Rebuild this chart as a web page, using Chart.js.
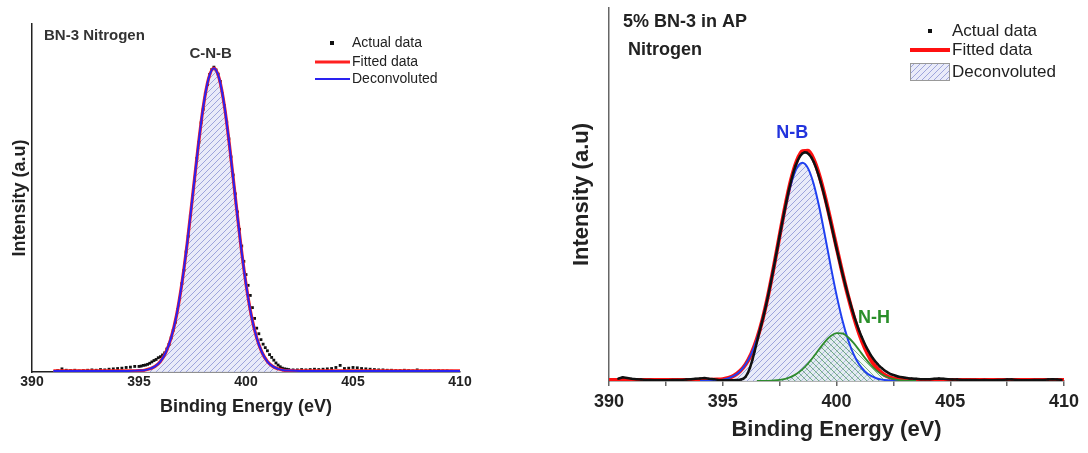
<!DOCTYPE html>
<html>
<head>
<meta charset="utf-8">
<script src="https://cdn.jsdelivr.net/npm/chart.js@4.4.1/dist/chart.umd.min.js"></script>
<style>
body { margin: 0; background: #fff; }
#wrap { position: relative; width: 1088px; height: 453px; }
.panel { position: absolute; top: 0; height: 453px; }
</style>
</head>
<body>
<div id="wrap">
  <div class="panel" style="left:0;width:540px"><canvas id="leftChart"></canvas></div>
  <div class="panel" style="left:540px;width:548px"><canvas id="rightChart"></canvas></div>
</div>
<script>
// ---------- left panel: BN-3 Nitrogen ----------
var leftTicks = [390, 395, 400, 405, 410];

var leftActualX = [
    391.2, 391.4, 391.6, 391.8, 392.0, 392.2, 392.4, 392.6, 392.8, 393.0,
    393.2, 393.4, 393.6, 393.8, 394.0, 394.2, 394.4, 394.6, 394.8,
    395.0, 395.1, 395.2, 395.3, 395.4, 395.5, 395.6, 395.7, 395.8, 395.9,
    396.0, 396.1, 396.2, 396.3, 396.4, 396.5, 396.6, 396.7, 396.8, 396.9,
    397.0, 397.1, 397.2, 397.3, 397.4, 397.5, 397.6, 397.7, 397.8, 397.9,
    398.0, 398.1, 398.2, 398.3, 398.4, 398.5, 398.6, 398.7, 398.8, 398.9,
    399.0, 399.1, 399.2, 399.3, 399.4, 399.5, 399.6, 399.7, 399.8, 399.9,
    400.0, 400.1, 400.2, 400.3, 400.4, 400.5, 400.6, 400.7, 400.8, 400.9,
    401.0, 401.1, 401.2, 401.3, 401.4, 401.5, 401.6, 401.7, 401.8, 401.9,
    402.0,
    402.2, 402.4, 402.6, 402.8, 403.0, 403.2, 403.4, 403.6, 403.8, 404.0,
    404.2, 404.4, 404.6, 404.8, 405.0, 405.2, 405.4, 405.6, 405.8, 406.0,
    406.2, 406.4, 406.6, 406.8, 407.0, 407.2, 407.4, 407.6, 407.8, 408.0,
    408.2, 408.4, 408.6, 408.8, 409.0, 409.2, 409.4, 409.6
];
var leftActualY = [
    0.4, 0.9, 0.5, 0.4, 0.5, 0.3, 0.4, 0.5, 0.6, 0.5,
    0.7, 0.6, 0.8, 0.9, 1.0, 1.1, 1.3, 1.4, 1.6,
    1.6, 1.7, 1.9, 2.0, 2.2, 2.5, 2.9, 3.3, 3.6, 4.1,
    4.4, 4.9, 5.5, 6.6, 7.9, 9.8, 12.0, 14.3, 17.9, 21.0,
    25.4, 29.2, 34.5, 39.0, 44.9, 50.3, 55.1, 61.4, 66.0, 71.6,
    75.5, 80.1, 82.6, 85.5, 86.9, 87.6, 86.8, 85.6, 83.5, 79.9,
    76.5, 71.9, 67.0, 61.8, 56.6, 51.2, 46.0, 41.0, 36.2, 31.8,
    28.0, 24.9, 22.0, 18.5, 15.4, 12.6, 11.0, 9.3, 8.0, 7.0,
    6.1, 5.0, 4.2, 3.4, 2.6, 2.0, 1.5, 1.1, 0.9, 0.8,
    0.7,
    0.6, 0.6, 0.7, 0.6, 0.7, 0.8, 0.7, 0.8, 0.9, 1.0,
    1.3, 1.9, 1.0, 1.1, 1.3, 1.2, 1.0, 0.9, 0.8, 0.7,
    0.6, 0.6, 0.5, 0.5, 0.4, 0.4, 0.5, 0.4, 0.3, 0.6,
    0.3, 0.3, 0.4, 0.3, 0.4, 0.3, 0.3, 0.2
];

var leftFitX = [
    391, 392, 393, 394, 394.5, 395, 395.25, 395.5, 395.75,
    396, 396.25, 396.5, 396.75, 397, 397.25, 397.5, 397.75,
    398, 398.25, 398.5, 398.75, 399, 399.25, 399.5, 399.75,
    400, 400.25, 400.5, 400.75, 401, 401.25, 401.5, 401.75,
    402, 402.5, 403, 404, 405, 406, 407, 408, 409, 410
];
var leftFitY = [
    0.3, 0.3, 0.3, 0.3, 0.3, 0.4, 0.5, 0.9, 1.6,
    3.0, 5.6, 9.8, 16.2, 25.3, 36.9, 50.3, 64.0,
    76.1, 84.3, 87.3, 84.3, 76.1, 64.0, 50.3, 36.9,
    25.3, 16.2, 9.8, 5.6, 3.0, 1.6, 0.9, 0.5,
    0.4, 0.3, 0.3, 0.3, 0.3, 0.3, 0.3, 0.3, 0.3, 0.3
];
var leftDeconvY = [
    0.3, 0.3, 0.3, 0.3, 0.3, 0.4, 0.5, 0.9, 1.6,
    3.0, 5.6, 9.8, 16.2, 25.3, 36.9, 50.3, 64.0,
    76.1, 84.3, 87.3, 84.3, 76.1, 64.0, 50.3, 36.9,
    25.3, 16.2, 9.8, 5.6, 3.0, 1.6, 0.9, 0.5,
    0.4, 0.3, 0.3, 0.3, 0.3, 0.3, 0.3, 0.3, 0.3, 0.3
];

// ---------- right panel: 5% BN-3 in AP ----------
var rightTicks = [390, 392.5, 395, 397.5, 400, 402.5, 405, 407.5, 410];
var rightTickLabels = [390, 395, 400, 405, 410];

var rightActualX = [
    390.4, 390.6, 390.8, 391.0, 391.2, 391.4, 391.6, 391.8, 392.0, 392.2,
    392.4, 392.6, 392.8, 393.0, 393.2, 393.4, 393.6, 393.8, 394.0, 394.2,
    394.4, 394.6, 394.8, 395.0, 395.2, 395.4,
    395.5, 395.6, 395.7, 395.8, 395.9,
    396.0, 396.1, 396.2, 396.3, 396.4, 396.5, 396.6, 396.7, 396.8, 396.9,
    397.0, 397.1, 397.2, 397.3, 397.4, 397.5, 397.6, 397.7, 397.8, 397.9,
    398.0, 398.1, 398.2, 398.3, 398.4, 398.5, 398.6, 398.7, 398.8, 398.9,
    399.0, 399.1, 399.2, 399.3, 399.4, 399.5, 399.6, 399.7, 399.8, 399.9,
    400.0, 400.1, 400.2, 400.3, 400.4, 400.5, 400.6, 400.7, 400.8, 400.9,
    401.0, 401.1, 401.2, 401.3, 401.4, 401.5, 401.6, 401.7, 401.8, 401.9,
    402.0, 402.1, 402.2, 402.3, 402.4, 402.5, 402.6, 402.7, 402.8, 402.9,
    403.0, 403.1, 403.2, 403.3, 403.4, 403.5,
    403.7, 403.9, 404.1, 404.3, 404.5, 404.7, 404.9, 405.1, 405.3, 405.5,
    405.7, 405.9, 406.1, 406.3, 406.5, 406.7, 406.9, 407.1, 407.3, 407.5,
    407.7, 407.9, 408.1, 408.3, 408.5, 408.7, 408.9, 409.1, 409.3, 409.5,
    409.7, 409.9
];
var rightActualY = [
    0.6, 1.0, 0.8, 0.6, 0.5, 0.4, 0.3, 0.3, 0.2, 0.2,
    0.2, 0.2, 0.3, 0.3, 0.3, 0.4, 0.5, 0.6, 0.7, 0.8,
    0.6, 0.5, 0.3, 0.2, 0.2, 0.2,
    0.2, 0.3, 0.3, 0.4, 0.6,
    1.1, 2.1, 3.6, 5.6, 7.9, 10.4, 12.9, 15.2, 17.6, 20.2,
    23.0, 26.0, 29.1, 32.3, 35.6, 38.9, 42.1, 45.2, 48.2, 51.0,
    53.5, 55.8, 57.7, 59.2, 60.3, 61.0, 61.3, 61.2, 60.7, 59.9,
    58.7, 57.2, 55.4, 53.4, 51.2, 48.8, 46.3, 43.7, 41.0, 38.3,
    35.6, 33.0, 30.4, 27.9, 25.5, 23.2, 21.0, 18.9, 16.9, 15.1,
    13.4, 11.9, 10.5, 9.2, 8.1, 7.0, 6.1, 5.3, 4.6, 3.9,
    3.4, 2.9, 2.5, 2.1, 1.8, 1.6, 1.4, 1.2, 1.1, 1.0,
    0.9, 0.8, 0.7, 0.7, 0.6, 0.6,
    0.5, 0.5, 0.5, 0.6, 0.7, 0.6, 0.5, 0.4, 0.4, 0.3,
    0.3, 0.3, 0.3, 0.2, 0.3, 0.2, 0.2, 0.3, 0.3, 0.4,
    0.4, 0.3, 0.2, 0.2, 0.2, 0.3, 0.3, 0.3, 0.4, 0.5,
    0.4, 0.3
];

var rightFitX = [
    390, 391, 392, 393, 394, 394.5, 394.75,
    395, 395.25, 395.5, 395.75, 396, 396.25, 396.5, 396.75,
    397, 397.25, 397.5, 397.75, 398, 398.25, 398.5, 398.75,
    399, 399.25, 399.5, 399.75, 400, 400.25, 400.5, 400.75,
    401, 401.25, 401.5, 401.75, 402, 402.25, 402.5, 402.75,
    403, 403.25, 403.5, 404, 405, 406, 407, 408, 409, 410
];
var rightFitY = [
    0.3, 0.3, 0.3, 0.3, 0.3, 0.35, 0.4,
    0.5, 0.8, 1.45, 2.6, 4.42, 7.22, 11.2, 16.51,
    23.14, 30.81, 39.0, 46.97, 53.88, 58.94, 61.62, 61.7,
    59.36, 55.01, 49.27, 42.72, 35.91, 29.24, 23.0, 17.43,
    12.65, 8.77, 5.78, 3.59, 2.12, 1.2, 0.7, 0.45,
    0.35, 0.3, 0.3, 0.3, 0.3, 0.3, 0.3, 0.3, 0.3, 0.3
];

var nbX = [
    394, 394.5, 394.75, 395, 395.25, 395.5, 395.75, 396, 396.25, 396.5, 396.75,
    397, 397.25, 397.5, 397.75, 398, 398.25, 398.5, 398.75,
    399, 399.25, 399.5, 399.75, 400, 400.25, 400.5, 400.75,
    401, 401.25, 401.5, 401.75, 402, 402.25, 402.5, 402.75, 403
];
var nbY = [
    0.01, 0.08, 0.18, 0.37, 0.74, 1.42, 2.57, 4.42, 7.22, 11.2, 16.5,
    23.08, 30.67, 38.7, 46.37, 52.76, 57.0, 58.5, 57.0,
    52.76, 46.37, 38.7, 30.67, 23.08, 16.5, 11.2, 7.22,
    4.42, 2.57, 1.42, 0.74, 0.37, 0.18, 0.08, 0.03, 0.0
];

var nhX = [
    396.5, 397, 397.25, 397.5, 397.75, 398, 398.25, 398.5, 398.75,
    399, 399.25, 399.5, 399.75, 400, 400.25, 400.5, 400.75,
    401, 401.25, 401.5, 401.75, 402, 402.25, 402.5, 402.75,
    403, 403.25, 403.5
];
var nhY = [
    0.0, 0.06, 0.14, 0.3, 0.6, 1.12, 1.94, 3.12, 4.7,
    6.6, 8.64, 10.57, 12.05, 12.83, 12.74, 11.8, 10.21,
    8.23, 6.2, 4.36, 2.85, 1.75, 1.0, 0.53, 0.26,
    0.12, 0.05, 0.02
];

// ---------- helpers ----------
var FONT = '"Liberation Sans", Arial, sans-serif';
Chart.defaults.font.family = FONT;

function pts(xs, ys) {
    return xs.map(function (x, i) { return { x: x, y: ys[i] }; });
}

function makeHatch(ctx, size, lineColor, bgColor, forward) {
    var c = document.createElement('canvas');
    c.width = size;
    c.height = size;
    var g = c.getContext('2d');
    if (bgColor) {
        g.fillStyle = bgColor;
        g.fillRect(0, 0, size, size);
    }
    g.strokeStyle = lineColor;
    g.lineWidth = 1;
    g.beginPath();
    if (forward) {
        g.moveTo(-1, size + 1); g.lineTo(size + 1, -1);
        g.moveTo(-1, 1); g.lineTo(1, -1);
        g.moveTo(size - 1, size + 1); g.lineTo(size + 1, size - 1);
    } else {
        g.moveTo(-1, -1); g.lineTo(size + 1, size + 1);
        g.moveTo(size - 1, -1); g.lineTo(size + 1, 1);
        g.moveTo(-1, size - 1); g.lineTo(1, size + 1);
    }
    g.stroke();
    return ctx.createPattern(c, 'repeat');
}

// draws panel captions, peak labels and the legend
function overlay(texts, legend) {
    return {
        id: 'overlay',
        afterDraw: function (chart) {
            var ctx = chart.ctx;
            var xs = chart.scales.x, ys = chart.scales.y;
            ctx.save();
            ctx.textBaseline = 'middle';
            texts.forEach(function (t) {
                ctx.font = t.font;
                ctx.fillStyle = t.color;
                ctx.textAlign = t.align || 'left';
                var px = t.atData ? xs.getPixelForValue(t.x) : t.x;
                var py = t.atData ? ys.getPixelForValue(t.y) : t.y;
                ctx.fillText(t.text, px, py);
            });
            legend.items.forEach(function (it) {
                if (it.kind == 'dot') {
                    ctx.fillStyle = '#111';
                    ctx.fillRect(legend.mark - 2, it.y - 2, 4, 4);
                } else if (it.kind == 'line') {
                    ctx.strokeStyle = it.color;
                    ctx.lineWidth = it.width;
                    ctx.beginPath();
                    ctx.moveTo(legend.x1, it.y);
                    ctx.lineTo(legend.x2, it.y);
                    ctx.stroke();
                } else {
                    ctx.fillStyle = it.fill;
                    ctx.fillRect(legend.x1, it.y - 9, legend.x2 - legend.x1, 18);
                    ctx.strokeStyle = '#999';
                    ctx.lineWidth = 1;
                    ctx.strokeRect(legend.x1 + 0.5, it.y - 8.5, legend.x2 - legend.x1 - 1, 17);
                }
                ctx.font = legend.font;
                ctx.fillStyle = '#222';
                ctx.textAlign = 'left';
                ctx.fillText(it.text, legend.textX, it.y);
            });
            ctx.restore();
        }
    };
}

function xAxis(ticksArr, labelsArr, opt) {
    return {
        type: 'linear',
        min: 390,
        max: 410,
        afterBuildTicks: function (s) {
            s.ticks = ticksArr.map(function (v) { return { value: v }; });
        },
        afterFit: function (s) { s.height = opt.height; },
        ticks: {
            autoSkip: false,
            maxRotation: 0,
            padding: opt.tickPad,
            color: '#222',
            font: { size: opt.tickSize, weight: 'bold' },
            callback: function (v) { return labelsArr.indexOf(v) >= 0 ? String(v) : ''; }
        },
        grid: {
            display: opt.tickMarks,
            drawOnChartArea: false,
            drawTicks: true,
            tickLength: 5,
            color: opt.axisColor,
            lineWidth: 1.5
        },
        border: { display: true, color: opt.axisColor, width: 1.5 },
        title: {
            display: true,
            text: 'Binding Energy (eV)',
            color: '#222',
            font: { size: opt.titleSize, weight: 'bold' },
            padding: { top: 0, bottom: opt.titlePad }
        }
    };
}

function yAxis(opt) {
    return {
        type: 'linear',
        min: 0,
        max: 100,
        afterFit: function (s) { s.width = opt.width; },
        ticks: { display: false },
        grid: { display: false },
        border: { display: true, color: opt.axisColor, width: 1.5 },
        title: {
            display: true,
            text: 'Intensity (a.u)',
            color: '#222',
            font: { size: opt.titleSize, weight: 'bold' },
            padding: { top: opt.titlePad, bottom: 0 }
        }
    };
}

// ---------- left chart ----------
var leftCtx = document.getElementById('leftChart').getContext('2d');
var leftHatch = makeHatch(leftCtx, 6, '#9ea5dc', 'rgba(232,234,249,0.95)', true);

new Chart(leftCtx, {
    type: 'line',
    data: {
        datasets: [
            {
                label: 'Deconvoluted',
                data: pts(leftFitX, leftDeconvY),
                borderColor: '#2a22f0',
                borderWidth: 2,
                pointRadius: 0,
                fill: 'origin',
                backgroundColor: leftHatch,
                cubicInterpolationMode: 'monotone',
                order: 0
            },
            {
                label: 'Fitted data',
                data: pts(leftFitX, leftFitY),
                borderColor: '#ff2020',
                borderWidth: 3.2,
                pointRadius: 0,
                fill: false,
                cubicInterpolationMode: 'monotone',
                order: 1
            },
            {
                label: 'Actual data',
                data: pts(leftActualX, leftActualY),
                showLine: false,
                pointStyle: 'rect',
                pointRadius: 2,
                pointBorderWidth: 0,
                pointBackgroundColor: '#111',
                order: 2
            }
        ]
    },
    options: {
        responsive: true,
        maintainAspectRatio: false,
        animation: false,
        layout: { padding: { left: 0, top: 24, right: 80, bottom: 0 } },
        scales: {
            x: xAxis(leftTicks, leftTicks, {
                height: 81, tickPad: -3, tickSize: 14, tickMarks: false,
                axisColor: '#222', titleSize: 18, titlePad: 35
            }),
            y: yAxis({ width: 32, axisColor: '#222', titleSize: 18, titlePad: 9 })
        },
        plugins: {
            legend: { display: false },
            tooltip: { enabled: false },
            filler: { drawTime: 'beforeDatasetsDraw' }
        }
    },
    plugins: [overlay(
        [
            { text: 'BN-3 Nitrogen', x: 44, y: 36, font: 'bold 15px ' + FONT, color: '#333' },
            { text: 'C-N-B', x: 398.35, y: 91.4, atData: true, align: 'center', font: 'bold 15px ' + FONT, color: '#333' }
        ],
        {
            x1: 315, x2: 350, mark: 332, textX: 352, font: '14px ' + FONT,
            items: [
                { kind: 'dot', y: 43, text: 'Actual data' },
                { kind: 'line', y: 62, color: '#ff2020', width: 3, text: 'Fitted data' },
                { kind: 'line', y: 79, color: '#2a22f0', width: 2, text: 'Deconvoluted' }
            ]
        }
    )]
});

// ---------- right chart ----------
var rightCtx = document.getElementById('rightChart').getContext('2d');
var blueHatch = makeHatch(rightCtx, 6, '#9ea5dc', 'rgba(232,234,249,0.95)', true);
var greenHatch = makeHatch(rightCtx, 6, 'rgba(40,130,60,0.6)', 'rgba(215,238,222,0.3)', false);

new Chart(rightCtx, {
    type: 'line',
    data: {
        datasets: [
            {
                label: 'Actual data',
                data: pts(rightActualX, rightActualY),
                showLine: true,
                borderColor: '#111',
                borderWidth: 2.5,
                tension: 0,
                pointStyle: 'rect',
                pointRadius: 1.3,
                pointBorderWidth: 0,
                pointBackgroundColor: '#111',
                order: 0
            },
            {
                label: 'N-H',
                data: pts(nhX, nhY),
                borderColor: '#2e8b2e',
                borderWidth: 1.8,
                pointRadius: 0,
                fill: 'origin',
                backgroundColor: greenHatch,
                cubicInterpolationMode: 'monotone',
                order: 1
            },
            {
                label: 'N-B',
                data: pts(nbX, nbY),
                borderColor: '#2040f0',
                borderWidth: 2,
                pointRadius: 0,
                fill: 'origin',
                backgroundColor: blueHatch,
                cubicInterpolationMode: 'monotone',
                order: 2
            },
            {
                label: 'Fitted data',
                data: pts(rightFitX, rightFitY),
                borderColor: '#ff1010',
                borderWidth: 4,
                pointRadius: 0,
                fill: false,
                cubicInterpolationMode: 'monotone',
                order: 3
            }
        ]
    },
    options: {
        responsive: true,
        maintainAspectRatio: false,
        animation: false,
        layout: { padding: { left: 0, top: 8, right: 24, bottom: 0 } },
        scales: {
            x: xAxis(rightTicks, rightTickLabels, {
                height: 72, tickPad: 5, tickSize: 18, tickMarks: true,
                axisColor: '#666', titleSize: 22, titlePad: 10
            }),
            y: yAxis({ width: 69, axisColor: '#666', titleSize: 22, titlePad: 29 })
        },
        plugins: {
            legend: { display: false },
            tooltip: { enabled: false },
            filler: { drawTime: 'beforeDatasetsDraw' }
        }
    },
    plugins: [overlay(
        [
            { text: '5% BN-3 in AP', x: 83, y: 22, font: 'bold 18px ' + FONT, color: '#222' },
            { text: 'Nitrogen', x: 88, y: 50, font: 'bold 18px ' + FONT, color: '#222' },
            { text: 'N-B', x: 398.05, y: 66.5, atData: true, align: 'center', font: 'bold 18px ' + FONT, color: '#2233dd' },
            { text: 'N-H', x: 401.65, y: 16.9, atData: true, align: 'center', font: 'bold 18px ' + FONT, color: '#2a8f2a' }
        ],
        {
            x1: 370, x2: 410, mark: 390, textX: 412, font: '17px ' + FONT,
            items: [
                { kind: 'dot', y: 31, text: 'Actual data' },
                { kind: 'line', y: 50, color: '#ff1010', width: 4, text: 'Fitted data' },
                { kind: 'box', y: 72, fill: blueHatch, text: 'Deconvoluted' }
            ]
        }
    )]
});
</script>
</body>
</html>
